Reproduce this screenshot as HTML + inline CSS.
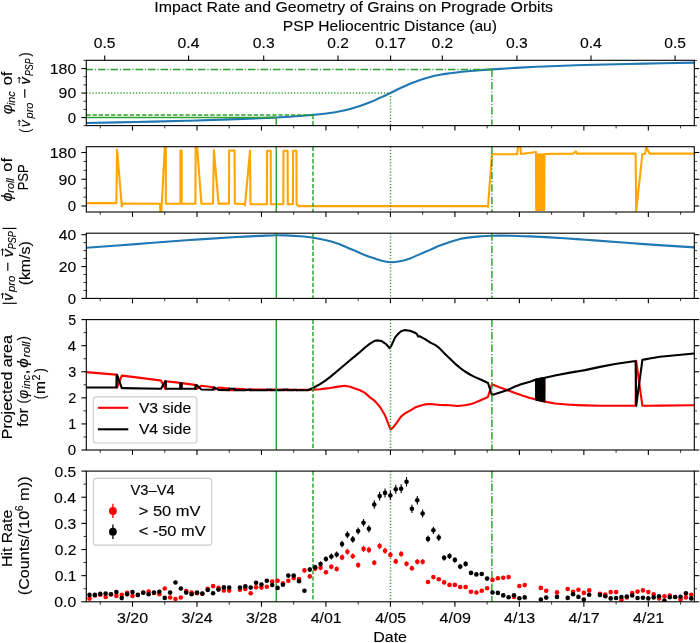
<!DOCTYPE html><html><head><meta charset="utf-8"><style>html,body{margin:0;padding:0;background:#fff;overflow:hidden;width:700px;height:643px;}svg{display:block;will-change:transform;}text{font-family:"Liberation Sans",sans-serif;fill:#000;stroke:#000;stroke-width:0.12px;}</style></head><body>
<svg width="700" height="643" viewBox="0 0 700 643">
<rect width="700" height="643" fill="#fff"/>
<text x="154.27" y="11.80" font-size="15.40" textLength="398.76" lengthAdjust="spacingAndGlyphs" >Impact Rate and Geometry of Grains on Prograde Orbits</text>
<text x="282.88" y="31.00" font-size="15.40" textLength="214.13" lengthAdjust="spacingAndGlyphs" >PSP Heliocentric Distance (au)</text>
<line x1="104.7" y1="60.3" x2="104.7" y2="55.4" stroke="#000" stroke-width="1.1"/>
<text x="93.89" y="47.50" font-size="15.10" textLength="21.67" lengthAdjust="spacingAndGlyphs" >0.5</text>
<line x1="188.6" y1="60.3" x2="188.6" y2="55.4" stroke="#000" stroke-width="1.1"/>
<text x="177.56" y="47.50" font-size="15.10" textLength="21.93" lengthAdjust="spacingAndGlyphs" >0.4</text>
<line x1="263.7" y1="60.3" x2="263.7" y2="55.4" stroke="#000" stroke-width="1.1"/>
<text x="252.83" y="47.50" font-size="15.10" textLength="21.81" lengthAdjust="spacingAndGlyphs" >0.3</text>
<line x1="338.0" y1="60.3" x2="338.0" y2="55.4" stroke="#000" stroke-width="1.1"/>
<text x="327.28" y="47.50" font-size="15.10" textLength="21.61" lengthAdjust="spacingAndGlyphs" >0.2</text>
<line x1="390.6" y1="60.3" x2="390.6" y2="55.4" stroke="#000" stroke-width="1.1"/>
<text x="375.25" y="47.50" font-size="15.10" textLength="30.89" lengthAdjust="spacingAndGlyphs" >0.17</text>
<line x1="442.3" y1="60.3" x2="442.3" y2="55.4" stroke="#000" stroke-width="1.1"/>
<text x="431.58" y="47.50" font-size="15.10" textLength="21.61" lengthAdjust="spacingAndGlyphs" >0.2</text>
<line x1="516.9" y1="60.3" x2="516.9" y2="55.4" stroke="#000" stroke-width="1.1"/>
<text x="506.03" y="47.50" font-size="15.10" textLength="21.81" lengthAdjust="spacingAndGlyphs" >0.3</text>
<line x1="591.0" y1="60.3" x2="591.0" y2="55.4" stroke="#000" stroke-width="1.1"/>
<text x="579.96" y="47.50" font-size="15.10" textLength="21.93" lengthAdjust="spacingAndGlyphs" >0.4</text>
<line x1="675.1" y1="60.3" x2="675.1" y2="55.4" stroke="#000" stroke-width="1.1"/>
<text x="664.29" y="47.50" font-size="15.10" textLength="21.67" lengthAdjust="spacingAndGlyphs" >0.5</text>
<line x1="81.39999999999999" y1="117.57" x2="86.3" y2="117.57" stroke="#000" stroke-width="1.1"/>
<line x1="694.3" y1="117.57" x2="699.1999999999999" y2="117.57" stroke="#000" stroke-width="1.1"/>
<line x1="81.39999999999999" y1="93.07" x2="86.3" y2="93.07" stroke="#000" stroke-width="1.1"/>
<line x1="694.3" y1="93.07" x2="699.1999999999999" y2="93.07" stroke="#000" stroke-width="1.1"/>
<line x1="81.39999999999999" y1="68.57" x2="86.3" y2="68.57" stroke="#000" stroke-width="1.1"/>
<line x1="694.3" y1="68.57" x2="699.1999999999999" y2="68.57" stroke="#000" stroke-width="1.1"/>
<line x1="83.5" y1="125.74" x2="86.3" y2="125.74" stroke="#000" stroke-width="0.8"/>
<line x1="694.3" y1="125.74" x2="697.0999999999999" y2="125.74" stroke="#000" stroke-width="0.8"/>
<line x1="83.5" y1="109.40" x2="86.3" y2="109.40" stroke="#000" stroke-width="0.8"/>
<line x1="694.3" y1="109.40" x2="697.0999999999999" y2="109.40" stroke="#000" stroke-width="0.8"/>
<line x1="83.5" y1="101.24" x2="86.3" y2="101.24" stroke="#000" stroke-width="0.8"/>
<line x1="694.3" y1="101.24" x2="697.0999999999999" y2="101.24" stroke="#000" stroke-width="0.8"/>
<line x1="83.5" y1="84.90" x2="86.3" y2="84.90" stroke="#000" stroke-width="0.8"/>
<line x1="694.3" y1="84.90" x2="697.0999999999999" y2="84.90" stroke="#000" stroke-width="0.8"/>
<line x1="83.5" y1="76.74" x2="86.3" y2="76.74" stroke="#000" stroke-width="0.8"/>
<line x1="694.3" y1="76.74" x2="697.0999999999999" y2="76.74" stroke="#000" stroke-width="0.8"/>
<line x1="83.5" y1="60.40" x2="86.3" y2="60.40" stroke="#000" stroke-width="0.8"/>
<line x1="694.3" y1="60.40" x2="697.0999999999999" y2="60.40" stroke="#000" stroke-width="0.8"/>
<text x="49.79" y="73.97" font-size="15.10" textLength="26.43" lengthAdjust="spacingAndGlyphs" >180</text>
<text x="58.63" y="98.47" font-size="15.10" textLength="17.59" lengthAdjust="spacingAndGlyphs" >90</text>
<text x="67.86" y="122.97" font-size="15.10" textLength="8.32" lengthAdjust="spacingAndGlyphs" >0</text>
<line x1="81.39999999999999" y1="206.00" x2="86.3" y2="206.00" stroke="#000" stroke-width="1.1"/>
<line x1="694.3" y1="206.00" x2="699.1999999999999" y2="206.00" stroke="#000" stroke-width="1.1"/>
<line x1="81.39999999999999" y1="179.25" x2="86.3" y2="179.25" stroke="#000" stroke-width="1.1"/>
<line x1="694.3" y1="179.25" x2="699.1999999999999" y2="179.25" stroke="#000" stroke-width="1.1"/>
<line x1="81.39999999999999" y1="152.50" x2="86.3" y2="152.50" stroke="#000" stroke-width="1.1"/>
<line x1="694.3" y1="152.50" x2="699.1999999999999" y2="152.50" stroke="#000" stroke-width="1.1"/>
<line x1="83.5" y1="197.08" x2="86.3" y2="197.08" stroke="#000" stroke-width="0.8"/>
<line x1="694.3" y1="197.08" x2="697.0999999999999" y2="197.08" stroke="#000" stroke-width="0.8"/>
<line x1="83.5" y1="188.17" x2="86.3" y2="188.17" stroke="#000" stroke-width="0.8"/>
<line x1="694.3" y1="188.17" x2="697.0999999999999" y2="188.17" stroke="#000" stroke-width="0.8"/>
<line x1="83.5" y1="170.33" x2="86.3" y2="170.33" stroke="#000" stroke-width="0.8"/>
<line x1="694.3" y1="170.33" x2="697.0999999999999" y2="170.33" stroke="#000" stroke-width="0.8"/>
<line x1="83.5" y1="161.42" x2="86.3" y2="161.42" stroke="#000" stroke-width="0.8"/>
<line x1="694.3" y1="161.42" x2="697.0999999999999" y2="161.42" stroke="#000" stroke-width="0.8"/>
<text x="49.79" y="157.90" font-size="15.10" textLength="26.43" lengthAdjust="spacingAndGlyphs" >180</text>
<text x="58.63" y="184.65" font-size="15.10" textLength="17.59" lengthAdjust="spacingAndGlyphs" >90</text>
<text x="67.86" y="211.40" font-size="15.10" textLength="8.32" lengthAdjust="spacingAndGlyphs" >0</text>
<line x1="81.39999999999999" y1="298.40" x2="86.3" y2="298.40" stroke="#000" stroke-width="1.1"/>
<line x1="694.3" y1="298.40" x2="699.1999999999999" y2="298.40" stroke="#000" stroke-width="1.1"/>
<line x1="81.39999999999999" y1="266.55" x2="86.3" y2="266.55" stroke="#000" stroke-width="1.1"/>
<line x1="694.3" y1="266.55" x2="699.1999999999999" y2="266.55" stroke="#000" stroke-width="1.1"/>
<line x1="81.39999999999999" y1="234.70" x2="86.3" y2="234.70" stroke="#000" stroke-width="1.1"/>
<line x1="694.3" y1="234.70" x2="699.1999999999999" y2="234.70" stroke="#000" stroke-width="1.1"/>
<line x1="83.5" y1="290.44" x2="86.3" y2="290.44" stroke="#000" stroke-width="0.8"/>
<line x1="694.3" y1="290.44" x2="697.0999999999999" y2="290.44" stroke="#000" stroke-width="0.8"/>
<line x1="83.5" y1="282.47" x2="86.3" y2="282.47" stroke="#000" stroke-width="0.8"/>
<line x1="694.3" y1="282.47" x2="697.0999999999999" y2="282.47" stroke="#000" stroke-width="0.8"/>
<line x1="83.5" y1="274.51" x2="86.3" y2="274.51" stroke="#000" stroke-width="0.8"/>
<line x1="694.3" y1="274.51" x2="697.0999999999999" y2="274.51" stroke="#000" stroke-width="0.8"/>
<line x1="83.5" y1="258.59" x2="86.3" y2="258.59" stroke="#000" stroke-width="0.8"/>
<line x1="694.3" y1="258.59" x2="697.0999999999999" y2="258.59" stroke="#000" stroke-width="0.8"/>
<line x1="83.5" y1="250.62" x2="86.3" y2="250.62" stroke="#000" stroke-width="0.8"/>
<line x1="694.3" y1="250.62" x2="697.0999999999999" y2="250.62" stroke="#000" stroke-width="0.8"/>
<line x1="83.5" y1="242.66" x2="86.3" y2="242.66" stroke="#000" stroke-width="0.8"/>
<line x1="694.3" y1="242.66" x2="697.0999999999999" y2="242.66" stroke="#000" stroke-width="0.8"/>
<text x="58.81" y="240.10" font-size="15.10" textLength="17.40" lengthAdjust="spacingAndGlyphs" >40</text>
<text x="58.72" y="271.95" font-size="15.10" textLength="17.49" lengthAdjust="spacingAndGlyphs" >20</text>
<text x="67.86" y="303.80" font-size="15.10" textLength="8.32" lengthAdjust="spacingAndGlyphs" >0</text>
<line x1="81.39999999999999" y1="450.00" x2="86.3" y2="450.00" stroke="#000" stroke-width="1.1"/>
<line x1="694.3" y1="450.00" x2="699.1999999999999" y2="450.00" stroke="#000" stroke-width="1.1"/>
<line x1="81.39999999999999" y1="423.92" x2="86.3" y2="423.92" stroke="#000" stroke-width="1.1"/>
<line x1="694.3" y1="423.92" x2="699.1999999999999" y2="423.92" stroke="#000" stroke-width="1.1"/>
<line x1="81.39999999999999" y1="397.84" x2="86.3" y2="397.84" stroke="#000" stroke-width="1.1"/>
<line x1="694.3" y1="397.84" x2="699.1999999999999" y2="397.84" stroke="#000" stroke-width="1.1"/>
<line x1="81.39999999999999" y1="371.76" x2="86.3" y2="371.76" stroke="#000" stroke-width="1.1"/>
<line x1="694.3" y1="371.76" x2="699.1999999999999" y2="371.76" stroke="#000" stroke-width="1.1"/>
<line x1="81.39999999999999" y1="345.68" x2="86.3" y2="345.68" stroke="#000" stroke-width="1.1"/>
<line x1="694.3" y1="345.68" x2="699.1999999999999" y2="345.68" stroke="#000" stroke-width="1.1"/>
<line x1="81.39999999999999" y1="319.60" x2="86.3" y2="319.60" stroke="#000" stroke-width="1.1"/>
<line x1="694.3" y1="319.60" x2="699.1999999999999" y2="319.60" stroke="#000" stroke-width="1.1"/>
<line x1="83.5" y1="436.96" x2="86.3" y2="436.96" stroke="#000" stroke-width="0.8"/>
<line x1="694.3" y1="436.96" x2="697.0999999999999" y2="436.96" stroke="#000" stroke-width="0.8"/>
<line x1="83.5" y1="410.88" x2="86.3" y2="410.88" stroke="#000" stroke-width="0.8"/>
<line x1="694.3" y1="410.88" x2="697.0999999999999" y2="410.88" stroke="#000" stroke-width="0.8"/>
<line x1="83.5" y1="384.80" x2="86.3" y2="384.80" stroke="#000" stroke-width="0.8"/>
<line x1="694.3" y1="384.80" x2="697.0999999999999" y2="384.80" stroke="#000" stroke-width="0.8"/>
<line x1="83.5" y1="358.72" x2="86.3" y2="358.72" stroke="#000" stroke-width="0.8"/>
<line x1="694.3" y1="358.72" x2="697.0999999999999" y2="358.72" stroke="#000" stroke-width="0.8"/>
<line x1="83.5" y1="332.64" x2="86.3" y2="332.64" stroke="#000" stroke-width="0.8"/>
<line x1="694.3" y1="332.64" x2="697.0999999999999" y2="332.64" stroke="#000" stroke-width="0.8"/>
<text x="67.86" y="455.40" font-size="15.10" textLength="8.32" lengthAdjust="spacingAndGlyphs" >0</text>
<text x="68.35" y="429.32" font-size="15.10" textLength="7.95" lengthAdjust="spacingAndGlyphs" >1</text>
<text x="68.30" y="403.24" font-size="15.10" textLength="8.02" lengthAdjust="spacingAndGlyphs" >2</text>
<text x="68.24" y="377.16" font-size="15.10" textLength="7.99" lengthAdjust="spacingAndGlyphs" >3</text>
<text x="67.71" y="351.08" font-size="15.10" textLength="8.33" lengthAdjust="spacingAndGlyphs" >4</text>
<text x="68.34" y="325.00" font-size="15.10" textLength="7.86" lengthAdjust="spacingAndGlyphs" >5</text>
<line x1="81.39999999999999" y1="601.80" x2="86.3" y2="601.80" stroke="#000" stroke-width="1.1"/>
<line x1="694.3" y1="601.80" x2="699.1999999999999" y2="601.80" stroke="#000" stroke-width="1.1"/>
<line x1="81.39999999999999" y1="575.66" x2="86.3" y2="575.66" stroke="#000" stroke-width="1.1"/>
<line x1="694.3" y1="575.66" x2="699.1999999999999" y2="575.66" stroke="#000" stroke-width="1.1"/>
<line x1="81.39999999999999" y1="549.52" x2="86.3" y2="549.52" stroke="#000" stroke-width="1.1"/>
<line x1="694.3" y1="549.52" x2="699.1999999999999" y2="549.52" stroke="#000" stroke-width="1.1"/>
<line x1="81.39999999999999" y1="523.38" x2="86.3" y2="523.38" stroke="#000" stroke-width="1.1"/>
<line x1="694.3" y1="523.38" x2="699.1999999999999" y2="523.38" stroke="#000" stroke-width="1.1"/>
<line x1="81.39999999999999" y1="497.24" x2="86.3" y2="497.24" stroke="#000" stroke-width="1.1"/>
<line x1="694.3" y1="497.24" x2="699.1999999999999" y2="497.24" stroke="#000" stroke-width="1.1"/>
<line x1="81.39999999999999" y1="471.10" x2="86.3" y2="471.10" stroke="#000" stroke-width="1.1"/>
<line x1="694.3" y1="471.10" x2="699.1999999999999" y2="471.10" stroke="#000" stroke-width="1.1"/>
<line x1="83.5" y1="588.73" x2="86.3" y2="588.73" stroke="#000" stroke-width="0.8"/>
<line x1="694.3" y1="588.73" x2="697.0999999999999" y2="588.73" stroke="#000" stroke-width="0.8"/>
<line x1="83.5" y1="562.59" x2="86.3" y2="562.59" stroke="#000" stroke-width="0.8"/>
<line x1="694.3" y1="562.59" x2="697.0999999999999" y2="562.59" stroke="#000" stroke-width="0.8"/>
<line x1="83.5" y1="536.45" x2="86.3" y2="536.45" stroke="#000" stroke-width="0.8"/>
<line x1="694.3" y1="536.45" x2="697.0999999999999" y2="536.45" stroke="#000" stroke-width="0.8"/>
<line x1="83.5" y1="510.31" x2="86.3" y2="510.31" stroke="#000" stroke-width="0.8"/>
<line x1="694.3" y1="510.31" x2="697.0999999999999" y2="510.31" stroke="#000" stroke-width="0.8"/>
<line x1="83.5" y1="484.17" x2="86.3" y2="484.17" stroke="#000" stroke-width="0.8"/>
<line x1="694.3" y1="484.17" x2="697.0999999999999" y2="484.17" stroke="#000" stroke-width="0.8"/>
<text x="54.28" y="607.20" font-size="15.10" textLength="21.94" lengthAdjust="spacingAndGlyphs" >0.0</text>
<text x="54.65" y="581.06" font-size="15.10" textLength="21.71" lengthAdjust="spacingAndGlyphs" >0.1</text>
<text x="54.77" y="554.92" font-size="15.10" textLength="21.61" lengthAdjust="spacingAndGlyphs" >0.2</text>
<text x="54.48" y="528.78" font-size="15.10" textLength="21.81" lengthAdjust="spacingAndGlyphs" >0.3</text>
<text x="54.13" y="502.64" font-size="15.10" textLength="21.93" lengthAdjust="spacingAndGlyphs" >0.4</text>
<text x="54.59" y="476.50" font-size="15.10" textLength="21.67" lengthAdjust="spacingAndGlyphs" >0.5</text>
<line x1="132.50" y1="125.6" x2="132.50" y2="130.5" stroke="#000" stroke-width="1.1"/>
<line x1="196.98" y1="125.6" x2="196.98" y2="130.5" stroke="#000" stroke-width="1.1"/>
<line x1="261.46" y1="125.6" x2="261.46" y2="130.5" stroke="#000" stroke-width="1.1"/>
<line x1="325.94" y1="125.6" x2="325.94" y2="130.5" stroke="#000" stroke-width="1.1"/>
<line x1="390.42" y1="125.6" x2="390.42" y2="130.5" stroke="#000" stroke-width="1.1"/>
<line x1="454.90" y1="125.6" x2="454.90" y2="130.5" stroke="#000" stroke-width="1.1"/>
<line x1="519.38" y1="125.6" x2="519.38" y2="130.5" stroke="#000" stroke-width="1.1"/>
<line x1="583.86" y1="125.6" x2="583.86" y2="130.5" stroke="#000" stroke-width="1.1"/>
<line x1="648.34" y1="125.6" x2="648.34" y2="130.5" stroke="#000" stroke-width="1.1"/>
<line x1="100.26" y1="125.6" x2="100.26" y2="128.4" stroke="#000" stroke-width="0.8"/>
<line x1="164.74" y1="125.6" x2="164.74" y2="128.4" stroke="#000" stroke-width="0.8"/>
<line x1="229.22" y1="125.6" x2="229.22" y2="128.4" stroke="#000" stroke-width="0.8"/>
<line x1="293.70" y1="125.6" x2="293.70" y2="128.4" stroke="#000" stroke-width="0.8"/>
<line x1="358.18" y1="125.6" x2="358.18" y2="128.4" stroke="#000" stroke-width="0.8"/>
<line x1="422.66" y1="125.6" x2="422.66" y2="128.4" stroke="#000" stroke-width="0.8"/>
<line x1="487.14" y1="125.6" x2="487.14" y2="128.4" stroke="#000" stroke-width="0.8"/>
<line x1="551.62" y1="125.6" x2="551.62" y2="128.4" stroke="#000" stroke-width="0.8"/>
<line x1="616.10" y1="125.6" x2="616.10" y2="128.4" stroke="#000" stroke-width="0.8"/>
<line x1="680.58" y1="125.6" x2="680.58" y2="128.4" stroke="#000" stroke-width="0.8"/>
<line x1="132.50" y1="212.0" x2="132.50" y2="216.9" stroke="#000" stroke-width="1.1"/>
<line x1="196.98" y1="212.0" x2="196.98" y2="216.9" stroke="#000" stroke-width="1.1"/>
<line x1="261.46" y1="212.0" x2="261.46" y2="216.9" stroke="#000" stroke-width="1.1"/>
<line x1="325.94" y1="212.0" x2="325.94" y2="216.9" stroke="#000" stroke-width="1.1"/>
<line x1="390.42" y1="212.0" x2="390.42" y2="216.9" stroke="#000" stroke-width="1.1"/>
<line x1="454.90" y1="212.0" x2="454.90" y2="216.9" stroke="#000" stroke-width="1.1"/>
<line x1="519.38" y1="212.0" x2="519.38" y2="216.9" stroke="#000" stroke-width="1.1"/>
<line x1="583.86" y1="212.0" x2="583.86" y2="216.9" stroke="#000" stroke-width="1.1"/>
<line x1="648.34" y1="212.0" x2="648.34" y2="216.9" stroke="#000" stroke-width="1.1"/>
<line x1="100.26" y1="212.0" x2="100.26" y2="214.8" stroke="#000" stroke-width="0.8"/>
<line x1="164.74" y1="212.0" x2="164.74" y2="214.8" stroke="#000" stroke-width="0.8"/>
<line x1="229.22" y1="212.0" x2="229.22" y2="214.8" stroke="#000" stroke-width="0.8"/>
<line x1="293.70" y1="212.0" x2="293.70" y2="214.8" stroke="#000" stroke-width="0.8"/>
<line x1="358.18" y1="212.0" x2="358.18" y2="214.8" stroke="#000" stroke-width="0.8"/>
<line x1="422.66" y1="212.0" x2="422.66" y2="214.8" stroke="#000" stroke-width="0.8"/>
<line x1="487.14" y1="212.0" x2="487.14" y2="214.8" stroke="#000" stroke-width="0.8"/>
<line x1="551.62" y1="212.0" x2="551.62" y2="214.8" stroke="#000" stroke-width="0.8"/>
<line x1="616.10" y1="212.0" x2="616.10" y2="214.8" stroke="#000" stroke-width="0.8"/>
<line x1="680.58" y1="212.0" x2="680.58" y2="214.8" stroke="#000" stroke-width="0.8"/>
<line x1="132.50" y1="298.4" x2="132.50" y2="303.29999999999995" stroke="#000" stroke-width="1.1"/>
<line x1="196.98" y1="298.4" x2="196.98" y2="303.29999999999995" stroke="#000" stroke-width="1.1"/>
<line x1="261.46" y1="298.4" x2="261.46" y2="303.29999999999995" stroke="#000" stroke-width="1.1"/>
<line x1="325.94" y1="298.4" x2="325.94" y2="303.29999999999995" stroke="#000" stroke-width="1.1"/>
<line x1="390.42" y1="298.4" x2="390.42" y2="303.29999999999995" stroke="#000" stroke-width="1.1"/>
<line x1="454.90" y1="298.4" x2="454.90" y2="303.29999999999995" stroke="#000" stroke-width="1.1"/>
<line x1="519.38" y1="298.4" x2="519.38" y2="303.29999999999995" stroke="#000" stroke-width="1.1"/>
<line x1="583.86" y1="298.4" x2="583.86" y2="303.29999999999995" stroke="#000" stroke-width="1.1"/>
<line x1="648.34" y1="298.4" x2="648.34" y2="303.29999999999995" stroke="#000" stroke-width="1.1"/>
<line x1="100.26" y1="298.4" x2="100.26" y2="301.2" stroke="#000" stroke-width="0.8"/>
<line x1="164.74" y1="298.4" x2="164.74" y2="301.2" stroke="#000" stroke-width="0.8"/>
<line x1="229.22" y1="298.4" x2="229.22" y2="301.2" stroke="#000" stroke-width="0.8"/>
<line x1="293.70" y1="298.4" x2="293.70" y2="301.2" stroke="#000" stroke-width="0.8"/>
<line x1="358.18" y1="298.4" x2="358.18" y2="301.2" stroke="#000" stroke-width="0.8"/>
<line x1="422.66" y1="298.4" x2="422.66" y2="301.2" stroke="#000" stroke-width="0.8"/>
<line x1="487.14" y1="298.4" x2="487.14" y2="301.2" stroke="#000" stroke-width="0.8"/>
<line x1="551.62" y1="298.4" x2="551.62" y2="301.2" stroke="#000" stroke-width="0.8"/>
<line x1="616.10" y1="298.4" x2="616.10" y2="301.2" stroke="#000" stroke-width="0.8"/>
<line x1="680.58" y1="298.4" x2="680.58" y2="301.2" stroke="#000" stroke-width="0.8"/>
<line x1="132.50" y1="450.0" x2="132.50" y2="454.9" stroke="#000" stroke-width="1.1"/>
<line x1="196.98" y1="450.0" x2="196.98" y2="454.9" stroke="#000" stroke-width="1.1"/>
<line x1="261.46" y1="450.0" x2="261.46" y2="454.9" stroke="#000" stroke-width="1.1"/>
<line x1="325.94" y1="450.0" x2="325.94" y2="454.9" stroke="#000" stroke-width="1.1"/>
<line x1="390.42" y1="450.0" x2="390.42" y2="454.9" stroke="#000" stroke-width="1.1"/>
<line x1="454.90" y1="450.0" x2="454.90" y2="454.9" stroke="#000" stroke-width="1.1"/>
<line x1="519.38" y1="450.0" x2="519.38" y2="454.9" stroke="#000" stroke-width="1.1"/>
<line x1="583.86" y1="450.0" x2="583.86" y2="454.9" stroke="#000" stroke-width="1.1"/>
<line x1="648.34" y1="450.0" x2="648.34" y2="454.9" stroke="#000" stroke-width="1.1"/>
<line x1="100.26" y1="450.0" x2="100.26" y2="452.8" stroke="#000" stroke-width="0.8"/>
<line x1="164.74" y1="450.0" x2="164.74" y2="452.8" stroke="#000" stroke-width="0.8"/>
<line x1="229.22" y1="450.0" x2="229.22" y2="452.8" stroke="#000" stroke-width="0.8"/>
<line x1="293.70" y1="450.0" x2="293.70" y2="452.8" stroke="#000" stroke-width="0.8"/>
<line x1="358.18" y1="450.0" x2="358.18" y2="452.8" stroke="#000" stroke-width="0.8"/>
<line x1="422.66" y1="450.0" x2="422.66" y2="452.8" stroke="#000" stroke-width="0.8"/>
<line x1="487.14" y1="450.0" x2="487.14" y2="452.8" stroke="#000" stroke-width="0.8"/>
<line x1="551.62" y1="450.0" x2="551.62" y2="452.8" stroke="#000" stroke-width="0.8"/>
<line x1="616.10" y1="450.0" x2="616.10" y2="452.8" stroke="#000" stroke-width="0.8"/>
<line x1="680.58" y1="450.0" x2="680.58" y2="452.8" stroke="#000" stroke-width="0.8"/>
<line x1="132.50" y1="601.8" x2="132.50" y2="606.6999999999999" stroke="#000" stroke-width="1.1"/>
<line x1="196.98" y1="601.8" x2="196.98" y2="606.6999999999999" stroke="#000" stroke-width="1.1"/>
<line x1="261.46" y1="601.8" x2="261.46" y2="606.6999999999999" stroke="#000" stroke-width="1.1"/>
<line x1="325.94" y1="601.8" x2="325.94" y2="606.6999999999999" stroke="#000" stroke-width="1.1"/>
<line x1="390.42" y1="601.8" x2="390.42" y2="606.6999999999999" stroke="#000" stroke-width="1.1"/>
<line x1="454.90" y1="601.8" x2="454.90" y2="606.6999999999999" stroke="#000" stroke-width="1.1"/>
<line x1="519.38" y1="601.8" x2="519.38" y2="606.6999999999999" stroke="#000" stroke-width="1.1"/>
<line x1="583.86" y1="601.8" x2="583.86" y2="606.6999999999999" stroke="#000" stroke-width="1.1"/>
<line x1="648.34" y1="601.8" x2="648.34" y2="606.6999999999999" stroke="#000" stroke-width="1.1"/>
<line x1="100.26" y1="601.8" x2="100.26" y2="604.5999999999999" stroke="#000" stroke-width="0.8"/>
<line x1="164.74" y1="601.8" x2="164.74" y2="604.5999999999999" stroke="#000" stroke-width="0.8"/>
<line x1="229.22" y1="601.8" x2="229.22" y2="604.5999999999999" stroke="#000" stroke-width="0.8"/>
<line x1="293.70" y1="601.8" x2="293.70" y2="604.5999999999999" stroke="#000" stroke-width="0.8"/>
<line x1="358.18" y1="601.8" x2="358.18" y2="604.5999999999999" stroke="#000" stroke-width="0.8"/>
<line x1="422.66" y1="601.8" x2="422.66" y2="604.5999999999999" stroke="#000" stroke-width="0.8"/>
<line x1="487.14" y1="601.8" x2="487.14" y2="604.5999999999999" stroke="#000" stroke-width="0.8"/>
<line x1="551.62" y1="601.8" x2="551.62" y2="604.5999999999999" stroke="#000" stroke-width="0.8"/>
<line x1="616.10" y1="601.8" x2="616.10" y2="604.5999999999999" stroke="#000" stroke-width="0.8"/>
<line x1="680.58" y1="601.8" x2="680.58" y2="604.5999999999999" stroke="#000" stroke-width="0.8"/>
<text x="117.06" y="622.50" font-size="15.10" textLength="31.10" lengthAdjust="spacingAndGlyphs" >3/20</text>
<text x="181.47" y="622.50" font-size="15.10" textLength="31.08" lengthAdjust="spacingAndGlyphs" >3/24</text>
<text x="246.03" y="622.50" font-size="15.10" textLength="31.14" lengthAdjust="spacingAndGlyphs" >3/28</text>
<text x="310.73" y="622.50" font-size="15.10" textLength="31.03" lengthAdjust="spacingAndGlyphs" >4/01</text>
<text x="375.18" y="622.50" font-size="15.10" textLength="30.99" lengthAdjust="spacingAndGlyphs" >4/05</text>
<text x="439.53" y="622.50" font-size="15.10" textLength="31.33" lengthAdjust="spacingAndGlyphs" >4/09</text>
<text x="504.08" y="622.50" font-size="15.10" textLength="31.13" lengthAdjust="spacingAndGlyphs" >4/13</text>
<text x="568.60" y="622.50" font-size="15.10" textLength="31.15" lengthAdjust="spacingAndGlyphs" >4/17</text>
<text x="633.13" y="622.50" font-size="15.10" textLength="31.03" lengthAdjust="spacingAndGlyphs" >4/21</text>
<text x="373.19" y="641.60" font-size="15.10" textLength="33.82" lengthAdjust="spacingAndGlyphs" >Date</text>
<defs><clipPath id="c1"><rect x="86.3" y="60.3" width="608.0" height="65.3"/></clipPath><clipPath id="c2"><rect x="86.3" y="146.7" width="608.0" height="65.30000000000001"/></clipPath><clipPath id="c3"><rect x="86.3" y="233.2" width="608.0" height="65.19999999999999"/></clipPath><clipPath id="c4"><rect x="86.3" y="319.6" width="608.0" height="130.39999999999998"/></clipPath><clipPath id="c5"><rect x="86.3" y="471.1" width="608.0" height="130.69999999999993"/></clipPath></defs>
<g clip-path="url(#c1)">
<path d="M86.00,123.00 C94.33,122.83 119.33,122.37 136.00,122.00 C152.67,121.63 170.33,121.23 186.00,120.80 C201.67,120.37 217.67,119.82 230.00,119.40 C242.33,118.98 252.33,118.62 260.00,118.30 C267.67,117.98 271.00,117.77 276.00,117.50 C281.00,117.23 286.00,116.95 290.00,116.70 C294.00,116.45 296.17,116.30 300.00,116.00 C303.83,115.70 309.67,115.20 313.00,114.90 C316.33,114.60 317.17,114.52 320.00,114.20 C322.83,113.88 326.67,113.48 330.00,113.00 C333.33,112.52 336.67,111.97 340.00,111.30 C343.33,110.63 346.67,109.88 350.00,109.00 C353.33,108.12 356.67,107.12 360.00,106.00 C363.33,104.88 366.67,103.67 370.00,102.30 C373.33,100.93 376.60,99.35 380.00,97.80 C383.40,96.25 387.07,94.58 390.40,93.00 C393.73,91.42 396.73,89.83 400.00,88.30 C403.27,86.77 406.67,85.20 410.00,83.80 C413.33,82.40 416.67,81.05 420.00,79.90 C423.33,78.75 426.67,77.77 430.00,76.90 C433.33,76.03 436.67,75.32 440.00,74.70 C443.33,74.08 446.67,73.65 450.00,73.20 C453.33,72.75 456.67,72.37 460.00,72.00 C463.33,71.63 466.67,71.30 470.00,71.00 C473.33,70.70 476.33,70.47 480.00,70.20 C483.67,69.93 488.67,69.62 492.00,69.40 C495.33,69.18 497.00,69.10 500.00,68.90 C503.00,68.70 506.67,68.42 510.00,68.20 C513.33,67.98 514.33,67.88 520.00,67.60 C525.67,67.32 535.67,66.85 544.00,66.50 C552.33,66.15 561.67,65.80 570.00,65.50 C578.33,65.20 581.67,65.02 594.00,64.70 C606.33,64.38 627.25,63.95 644.00,63.60 C660.75,63.25 686.08,62.77 694.50,62.60" fill="none" stroke="#1f77b4" stroke-width="2.1" stroke-linejoin="round" />
<line x1="86.3" y1="117.50" x2="276.3" y2="117.50" stroke="#2ca02c" stroke-width="1.45" />
<line x1="276.3" y1="117.50" x2="276.3" y2="125.6" stroke="#2ca02c" stroke-width="1.45" />
<line x1="86.3" y1="114.90" x2="313.0" y2="114.90" stroke="#2ca02c" stroke-width="1.45" stroke-dasharray="4.3 1.9"/>
<line x1="313.0" y1="114.90" x2="313.0" y2="125.6" stroke="#2ca02c" stroke-width="1.45" stroke-dasharray="4.3 1.9"/>
<line x1="86.3" y1="93.00" x2="390.5" y2="93.00" stroke="#2ca02c" stroke-width="1.45" stroke-dasharray="1.2 1.9"/>
<line x1="390.5" y1="93.00" x2="390.5" y2="125.6" stroke="#2ca02c" stroke-width="1.45" stroke-dasharray="1.2 1.9"/>
<line x1="86.3" y1="69.50" x2="491.9" y2="69.50" stroke="#2ca02c" stroke-width="1.45" stroke-dasharray="7.5 1.9 1.2 1.9" stroke-dashoffset="0.8"/>
<line x1="491.9" y1="69.50" x2="491.9" y2="125.6" stroke="#2ca02c" stroke-width="1.45" stroke-dasharray="7.5 1.9 1.2 1.9"/>
</g>
<g clip-path="url(#c2)">
<polyline points="86.00,203.10 116.30,203.10 117.10,149.70 121.80,206.30 122.60,203.60 160.10,203.80 160.50,218.00 161.00,218.00 165.20,140.00 165.80,140.00 165.80,203.70 180.40,203.70 180.40,150.50 181.60,150.50 181.60,203.70 195.40,203.70 195.70,140.00 196.60,140.00 201.40,203.70 213.00,203.60 213.90,150.30 218.60,203.60 229.00,203.60 229.20,150.50 234.60,150.50 234.80,203.60 244.30,204.00 245.00,205.30 250.00,150.70 250.50,204.30 266.90,204.30 267.10,150.70 270.70,150.70 270.90,204.30 283.30,204.30 283.50,150.70 287.60,150.70 287.80,204.30 292.90,204.30 293.10,150.70 296.40,150.70 296.60,204.30 298.60,206.10 487.50,206.10 488.00,207.00 491.90,154.30 517.10,154.30 518.00,146.50 520.30,146.50 521.00,154.00 536.00,152.00 536.20,210.00 536.45,154.60 536.70,210.00 536.95,154.60 537.20,210.00 537.45,154.60 537.70,210.00 537.95,154.60 538.20,210.00 538.45,154.60 538.70,210.00 538.95,154.60 539.20,210.00 539.45,154.60 539.70,210.00 539.95,154.60 540.20,210.00 540.45,154.60 540.70,210.00 540.95,154.60 541.20,210.00 541.45,154.60 541.70,210.00 541.95,154.60 542.20,210.00 542.45,154.60 542.70,210.00 542.95,154.60 543.20,210.00 543.45,154.60 543.70,210.00 543.95,154.60 544.20,210.00 544.45,154.60 544.60,154.00 573.00,153.60 576.00,151.40 577.00,153.60 635.60,153.60 636.20,211.00 642.40,154.00 645.00,154.00 646.40,147.50 649.60,153.60 694.00,153.60" fill="none" stroke="#ffa500" stroke-width="2.1" stroke-linejoin="round" stroke-linecap="butt" />
</g>
<g clip-path="url(#c3)">
<path d="M86.00,247.70 C94.33,247.10 119.33,245.33 136.00,244.10 C152.67,242.87 169.33,241.48 186.00,240.30 C202.67,239.12 223.67,237.73 236.00,237.00 C248.33,236.27 253.33,236.20 260.00,235.90 C266.67,235.60 271.67,235.28 276.00,235.20 C280.33,235.12 282.00,235.22 286.00,235.40 C290.00,235.58 295.50,235.92 300.00,236.30 C304.50,236.68 308.67,237.03 313.00,237.70 C317.33,238.37 322.17,239.40 326.00,240.30 C329.83,241.20 332.67,241.98 336.00,243.10 C339.33,244.22 342.67,245.63 346.00,247.00 C349.33,248.37 352.67,249.87 356.00,251.30 C359.33,252.73 362.67,254.33 366.00,255.60 C369.33,256.87 373.17,258.00 376.00,258.90 C378.83,259.80 380.60,260.43 383.00,261.00 C385.40,261.57 387.57,262.25 390.40,262.30 C393.23,262.35 396.73,261.95 400.00,261.30 C403.27,260.65 406.67,259.60 410.00,258.40 C413.33,257.20 416.67,255.52 420.00,254.10 C423.33,252.68 426.67,251.32 430.00,249.90 C433.33,248.48 436.67,246.92 440.00,245.60 C443.33,244.28 446.67,243.08 450.00,242.00 C453.33,240.92 456.67,239.87 460.00,239.10 C463.33,238.33 466.67,237.85 470.00,237.40 C473.33,236.95 476.33,236.68 480.00,236.40 C483.67,236.12 487.00,235.82 492.00,235.70 C497.00,235.58 503.67,235.58 510.00,235.70 C516.33,235.82 523.33,236.12 530.00,236.40 C536.67,236.68 541.67,236.90 550.00,237.40 C558.33,237.90 572.67,238.90 580.00,239.40 C587.33,239.90 583.33,239.62 594.00,240.40 C604.67,241.18 627.25,242.93 644.00,244.10 C660.75,245.27 686.08,246.85 694.50,247.40" fill="none" stroke="#1f77b4" stroke-width="2.1" stroke-linejoin="round" />
</g>
<g clip-path="url(#c4)">
<polyline points="86.00,372.10 116.00,374.60 116.30,374.65 117.10,387.61 121.80,375.54 122.00,375.56 122.60,375.64 160.00,380.40 160.10,380.41 160.50,380.47 161.00,380.55 165.20,388.80 165.50,388.80 165.80,388.80 165.80,381.23 176.00,382.40 180.40,382.98 180.40,388.80 181.60,388.80 181.60,383.14 195.00,384.90 195.40,384.95 195.70,388.88 196.60,388.99 201.40,385.68 213.00,387.20 213.90,389.77 218.60,387.66 229.00,388.52 229.20,390.18 230.00,390.20 234.60,390.22 234.80,388.79 244.30,389.17 245.00,389.20 250.00,390.27 250.50,389.41 260.00,389.60 266.90,389.62 267.10,390.30 270.70,390.30 270.90,389.63 283.30,389.66 283.50,390.30 287.60,390.30 287.80,389.67 292.90,389.68 293.10,390.30 296.40,390.30 296.60,389.69 298.60,389.70 300.00,389.70 308.00,389.78 310.00,389.80 313.00,389.65 320.00,389.30 325.00,388.65 330.00,388.00 340.00,386.40 345.00,385.80 350.00,386.70 355.00,388.40 360.00,390.30 365.00,392.90 370.00,397.40 375.00,401.20 378.00,404.68 380.00,407.00 382.00,410.32 385.00,415.30 386.00,417.87 388.50,424.30 389.80,427.68 390.50,429.50 392.00,428.36 393.00,427.60 395.00,425.00 397.00,422.40 398.00,420.95 401.00,416.60 405.00,413.40 410.00,410.60 415.00,407.60 417.00,406.84 418.00,406.46 420.00,405.70 425.00,404.40 430.00,404.00 435.00,404.50 438.00,404.80 440.00,405.00 445.00,405.15 450.00,405.30 455.00,405.74 458.00,406.00 460.00,405.80 465.00,405.30 470.00,404.18 473.00,403.50 475.00,402.64 480.00,400.50 487.00,397.50 487.50,397.10 488.00,396.70 491.90,384.27 492.00,384.30 500.00,387.50 507.00,389.90 515.00,392.90 517.10,393.65 518.00,393.97 520.30,394.79 521.00,395.04 522.00,395.40 530.00,398.00 536.00,399.60 536.20,379.56 536.45,399.70 536.70,379.46 536.95,399.81 537.20,379.36 537.45,399.92 537.70,379.26 537.95,400.03 538.20,379.16 538.45,400.14 538.70,379.06 538.95,400.26 539.20,378.96 539.45,400.37 539.70,378.86 539.95,400.48 540.20,378.76 540.45,400.59 540.70,378.66 540.95,400.70 541.20,378.56 541.45,400.81 541.70,378.46 541.95,400.92 542.20,378.36 542.45,401.03 542.70,378.26 542.95,401.14 543.20,378.16 543.45,401.26 543.70,378.06 543.95,401.37 544.20,377.96 544.45,401.48 544.60,401.51 545.00,401.60 555.00,403.50 570.00,404.80 573.00,404.92 576.00,405.04 577.00,405.08 585.00,405.40 600.00,405.70 615.00,405.70 635.50,405.80 635.60,405.80 636.20,360.88 642.40,405.80 645.00,405.77 646.40,405.76 649.60,405.73 660.00,405.63 694.00,405.30" fill="none" stroke="#ff0000" stroke-width="2.1" stroke-linejoin="round" stroke-linecap="butt" />
<polyline points="86.00,387.50 116.00,387.50 116.30,387.53 117.10,374.78 121.80,388.08 122.00,388.10 122.60,388.11 160.00,388.80 160.10,388.80 160.50,388.80 161.00,388.80 165.20,381.16 165.50,381.20 165.80,381.23 165.80,388.80 176.00,388.80 180.40,388.80 180.40,382.98 181.60,383.14 181.60,388.80 195.00,388.80 195.40,388.85 195.70,384.98 196.60,385.09 201.40,389.44 213.00,389.75 213.90,387.27 218.60,389.90 229.00,390.17 229.20,388.53 230.00,388.60 234.60,388.78 234.80,390.22 244.30,390.25 245.00,390.25 250.00,389.40 250.50,390.27 260.00,390.30 266.90,390.30 267.10,389.62 270.70,389.63 270.90,390.30 283.30,390.30 283.50,389.66 287.60,389.67 287.80,390.30 292.90,390.30 293.10,389.68 296.40,389.69 296.60,390.30 298.60,390.30 300.00,390.30 308.00,390.30 310.00,389.30 313.00,388.00 320.00,384.10 325.00,380.90 330.00,377.10 340.00,368.70 345.00,364.50 350.00,360.30 355.00,356.15 360.00,352.00 365.00,347.50 370.00,343.60 375.00,340.70 378.00,340.40 380.00,340.85 382.00,341.30 385.00,343.32 386.00,344.00 388.50,346.83 389.80,348.30 390.50,347.03 392.00,344.30 393.00,342.07 395.00,337.60 397.00,335.20 398.00,334.00 401.00,331.20 405.00,330.10 410.00,330.80 415.00,332.70 417.00,334.10 418.00,336.40 420.00,336.30 425.00,339.10 430.00,342.40 435.00,344.90 438.00,346.90 440.00,348.80 445.00,353.90 450.00,358.70 455.00,363.60 458.00,366.12 460.00,367.80 465.00,371.50 470.00,374.50 473.00,376.06 475.00,377.10 480.00,379.30 487.00,382.54 487.50,382.77 488.00,383.00 491.90,395.04 492.00,395.00 500.00,392.40 507.00,390.30 515.00,386.50 517.10,385.72 518.00,385.39 520.30,384.53 521.00,384.27 522.00,383.90 530.00,381.70 536.00,379.60 536.20,399.64 536.45,379.51 536.70,399.76 536.95,379.41 537.20,399.87 537.45,379.31 537.70,399.98 537.95,379.21 538.20,400.09 538.45,379.11 538.70,400.20 538.95,379.01 539.20,400.31 539.45,378.91 539.70,400.42 539.95,378.81 540.20,400.53 540.45,378.71 540.70,400.64 540.95,378.61 541.20,400.76 541.45,378.51 541.70,400.87 541.95,378.41 542.20,400.98 542.45,378.31 542.70,401.09 542.95,378.21 543.20,401.20 543.45,378.11 543.70,401.31 543.95,378.01 544.20,401.42 544.45,377.91 544.60,377.88 545.00,377.80 555.00,375.50 570.00,372.60 573.00,372.10 576.00,371.60 577.00,371.43 585.00,370.10 600.00,366.90 615.00,364.00 635.50,361.00 635.60,360.98 636.20,405.80 642.40,359.83 645.00,359.37 646.40,359.12 649.60,358.55 660.00,356.70 694.00,353.55" fill="none" stroke="#000000" stroke-width="2.1" stroke-linejoin="round" stroke-linecap="butt" />
</g>
<rect x="93.3" y="396.9" width="103.6" height="46.1" rx="2.8" fill="#fff" fill-opacity="0.8" stroke="#cccccc" stroke-width="1.1"/>
<line x1="97.9" y1="407.8" x2="128.3" y2="407.8" stroke="#ff0000" stroke-width="2.1"/>
<line x1="97.9" y1="429.3" x2="128.3" y2="429.3" stroke="#000" stroke-width="2.1"/>
<text x="138.93" y="413.30" font-size="15.10" textLength="52.25" lengthAdjust="spacingAndGlyphs" >V3 side</text>
<text x="138.93" y="433.90" font-size="15.10" textLength="52.25" lengthAdjust="spacingAndGlyphs" >V4 side</text>
<line x1="276.3" y1="471.1" x2="276.3" y2="601.8" stroke="#2ca02c" stroke-width="1.45" />
<line x1="313.0" y1="471.1" x2="313.0" y2="601.8" stroke="#2ca02c" stroke-width="1.45" stroke-dasharray="4.3 1.9"/>
<line x1="390.5" y1="471.1" x2="390.5" y2="601.8" stroke="#2ca02c" stroke-width="1.45" stroke-dasharray="1.2 1.9"/>
<line x1="491.9" y1="471.1" x2="491.9" y2="601.8" stroke="#2ca02c" stroke-width="1.45" stroke-dasharray="7.5 1.9 1.2 1.9"/>
<g clip-path="url(#c5)">
<circle cx="89.52" cy="598.60" r="2.3" fill="#ff0000"/>
<circle cx="94.89" cy="595.40" r="2.3" fill="#ff0000"/>
<circle cx="100.26" cy="594.70" r="2.3" fill="#ff0000"/>
<circle cx="105.63" cy="596.90" r="2.3" fill="#ff0000"/>
<circle cx="111.01" cy="594.50" r="2.3" fill="#ff0000"/>
<circle cx="116.38" cy="596.00" r="2.3" fill="#ff0000"/>
<circle cx="121.75" cy="594.70" r="2.3" fill="#ff0000"/>
<circle cx="127.13" cy="592.80" r="2.3" fill="#ff0000"/>
<circle cx="132.50" cy="596.00" r="2.3" fill="#ff0000"/>
<circle cx="137.87" cy="595.00" r="2.3" fill="#ff0000"/>
<circle cx="143.25" cy="592.60" r="2.3" fill="#ff0000"/>
<circle cx="148.62" cy="591.50" r="2.3" fill="#ff0000"/>
<circle cx="153.99" cy="593.00" r="2.3" fill="#ff0000"/>
<circle cx="159.37" cy="594.30" r="2.3" fill="#ff0000"/>
<circle cx="164.74" cy="588.50" r="2.3" fill="#ff0000"/>
<circle cx="170.11" cy="597.50" r="2.3" fill="#ff0000"/>
<circle cx="175.48" cy="599.00" r="2.3" fill="#ff0000"/>
<circle cx="180.86" cy="597.50" r="2.3" fill="#ff0000"/>
<circle cx="186.23" cy="591.10" r="2.3" fill="#ff0000"/>
<circle cx="191.60" cy="592.60" r="2.3" fill="#ff0000"/>
<circle cx="196.98" cy="593.20" r="2.3" fill="#ff0000"/>
<circle cx="202.35" cy="593.80" r="2.3" fill="#ff0000"/>
<circle cx="207.72" cy="588.90" r="2.3" fill="#ff0000"/>
<circle cx="213.09" cy="586.10" r="2.3" fill="#ff0000"/>
<circle cx="218.47" cy="587.90" r="2.3" fill="#ff0000"/>
<circle cx="223.84" cy="590.40" r="2.3" fill="#ff0000"/>
<circle cx="229.21" cy="590.60" r="2.3" fill="#ff0000"/>
<circle cx="239.96" cy="589.80" r="2.3" fill="#ff0000"/>
<circle cx="245.33" cy="589.00" r="2.3" fill="#ff0000"/>
<circle cx="250.71" cy="593.20" r="2.3" fill="#ff0000"/>
<circle cx="256.08" cy="587.20" r="2.3" fill="#ff0000"/>
<circle cx="261.45" cy="587.60" r="2.3" fill="#ff0000"/>
<circle cx="266.83" cy="586.70" r="2.3" fill="#ff0000"/>
<circle cx="272.20" cy="581.60" r="2.3" fill="#ff0000"/>
<circle cx="277.57" cy="580.70" r="2.3" fill="#ff0000"/>
<circle cx="282.94" cy="583.30" r="2.3" fill="#ff0000"/>
<circle cx="288.32" cy="580.70" r="2.3" fill="#ff0000"/>
<circle cx="293.69" cy="578.10" r="2.3" fill="#ff0000"/>
<circle cx="299.06" cy="579.00" r="2.3" fill="#ff0000"/>
<line x1="304.44" y1="568.01" x2="304.44" y2="572.79" stroke="#ff0000" stroke-width="1.1"/>
<circle cx="304.44" cy="570.40" r="2.3" fill="#ff0000"/>
<circle cx="309.81" cy="576.40" r="2.3" fill="#ff0000"/>
<line x1="315.18" y1="566.24" x2="315.18" y2="571.16" stroke="#ff0000" stroke-width="1.1"/>
<circle cx="315.18" cy="568.70" r="2.3" fill="#ff0000"/>
<line x1="320.56" y1="565.21" x2="320.56" y2="570.19" stroke="#ff0000" stroke-width="1.1"/>
<circle cx="320.56" cy="567.70" r="2.3" fill="#ff0000"/>
<line x1="325.93" y1="569.88" x2="325.93" y2="574.52" stroke="#ff0000" stroke-width="1.1"/>
<circle cx="325.93" cy="572.20" r="2.3" fill="#ff0000"/>
<line x1="331.30" y1="564.27" x2="331.30" y2="569.33" stroke="#ff0000" stroke-width="1.1"/>
<circle cx="331.30" cy="566.80" r="2.3" fill="#ff0000"/>
<line x1="336.67" y1="566.55" x2="336.67" y2="571.45" stroke="#ff0000" stroke-width="1.1"/>
<circle cx="336.67" cy="569.00" r="2.3" fill="#ff0000"/>
<line x1="342.05" y1="554.55" x2="342.05" y2="560.25" stroke="#ff0000" stroke-width="1.1"/>
<circle cx="342.05" cy="557.40" r="2.3" fill="#ff0000"/>
<line x1="347.42" y1="548.67" x2="347.42" y2="554.73" stroke="#ff0000" stroke-width="1.1"/>
<circle cx="347.42" cy="551.70" r="2.3" fill="#ff0000"/>
<line x1="352.79" y1="553.31" x2="352.79" y2="559.09" stroke="#ff0000" stroke-width="1.1"/>
<circle cx="352.79" cy="556.20" r="2.3" fill="#ff0000"/>
<line x1="358.17" y1="562.51" x2="358.17" y2="567.69" stroke="#ff0000" stroke-width="1.1"/>
<circle cx="358.17" cy="565.10" r="2.3" fill="#ff0000"/>
<line x1="363.54" y1="545.79" x2="363.54" y2="552.01" stroke="#ff0000" stroke-width="1.1"/>
<circle cx="363.54" cy="548.90" r="2.3" fill="#ff0000"/>
<line x1="368.91" y1="546.82" x2="368.91" y2="552.98" stroke="#ff0000" stroke-width="1.1"/>
<circle cx="368.91" cy="549.90" r="2.3" fill="#ff0000"/>
<line x1="374.28" y1="560.03" x2="374.28" y2="565.37" stroke="#ff0000" stroke-width="1.1"/>
<circle cx="374.28" cy="562.70" r="2.3" fill="#ff0000"/>
<line x1="379.66" y1="542.90" x2="379.66" y2="549.30" stroke="#ff0000" stroke-width="1.1"/>
<circle cx="379.66" cy="546.10" r="2.3" fill="#ff0000"/>
<line x1="385.03" y1="547.74" x2="385.03" y2="553.86" stroke="#ff0000" stroke-width="1.1"/>
<circle cx="385.03" cy="550.80" r="2.3" fill="#ff0000"/>
<line x1="390.40" y1="551.97" x2="390.40" y2="557.83" stroke="#ff0000" stroke-width="1.1"/>
<circle cx="390.40" cy="554.90" r="2.3" fill="#ff0000"/>
<line x1="395.78" y1="558.68" x2="395.78" y2="564.12" stroke="#ff0000" stroke-width="1.1"/>
<circle cx="395.78" cy="561.40" r="2.3" fill="#ff0000"/>
<line x1="401.15" y1="551.04" x2="401.15" y2="556.96" stroke="#ff0000" stroke-width="1.1"/>
<circle cx="401.15" cy="554.00" r="2.3" fill="#ff0000"/>
<line x1="406.52" y1="561.16" x2="406.52" y2="566.44" stroke="#ff0000" stroke-width="1.1"/>
<circle cx="406.52" cy="563.80" r="2.3" fill="#ff0000"/>
<line x1="411.90" y1="565.83" x2="411.90" y2="570.77" stroke="#ff0000" stroke-width="1.1"/>
<circle cx="411.90" cy="568.30" r="2.3" fill="#ff0000"/>
<line x1="417.27" y1="559.10" x2="417.27" y2="564.50" stroke="#ff0000" stroke-width="1.1"/>
<circle cx="417.27" cy="561.80" r="2.3" fill="#ff0000"/>
<line x1="422.64" y1="559.10" x2="422.64" y2="564.50" stroke="#ff0000" stroke-width="1.1"/>
<circle cx="422.64" cy="561.80" r="2.3" fill="#ff0000"/>
<circle cx="428.01" cy="582.00" r="2.3" fill="#ff0000"/>
<circle cx="433.39" cy="577.10" r="2.3" fill="#ff0000"/>
<circle cx="438.76" cy="579.20" r="2.3" fill="#ff0000"/>
<circle cx="444.13" cy="582.40" r="2.3" fill="#ff0000"/>
<circle cx="449.51" cy="584.90" r="2.3" fill="#ff0000"/>
<circle cx="454.88" cy="584.90" r="2.3" fill="#ff0000"/>
<circle cx="460.25" cy="587.00" r="2.3" fill="#ff0000"/>
<circle cx="465.63" cy="587.00" r="2.3" fill="#ff0000"/>
<circle cx="471.00" cy="591.80" r="2.3" fill="#ff0000"/>
<circle cx="476.37" cy="592.50" r="2.3" fill="#ff0000"/>
<circle cx="481.75" cy="590.80" r="2.3" fill="#ff0000"/>
<circle cx="487.12" cy="588.30" r="2.3" fill="#ff0000"/>
<circle cx="492.49" cy="579.90" r="2.3" fill="#ff0000"/>
<circle cx="497.86" cy="578.20" r="2.3" fill="#ff0000"/>
<circle cx="503.24" cy="577.80" r="2.3" fill="#ff0000"/>
<circle cx="508.61" cy="577.10" r="2.3" fill="#ff0000"/>
<circle cx="513.98" cy="596.90" r="2.3" fill="#ff0000"/>
<circle cx="519.36" cy="586.00" r="2.3" fill="#ff0000"/>
<circle cx="524.73" cy="585.10" r="2.3" fill="#ff0000"/>
<circle cx="540.85" cy="587.90" r="2.3" fill="#ff0000"/>
<circle cx="546.22" cy="590.70" r="2.3" fill="#ff0000"/>
<circle cx="556.97" cy="592.40" r="2.3" fill="#ff0000"/>
<circle cx="567.71" cy="589.00" r="2.3" fill="#ff0000"/>
<circle cx="573.09" cy="591.70" r="2.3" fill="#ff0000"/>
<circle cx="578.46" cy="589.70" r="2.3" fill="#ff0000"/>
<circle cx="583.83" cy="592.90" r="2.3" fill="#ff0000"/>
<circle cx="589.21" cy="590.40" r="2.3" fill="#ff0000"/>
<circle cx="599.95" cy="593.80" r="2.3" fill="#ff0000"/>
<circle cx="605.32" cy="594.50" r="2.3" fill="#ff0000"/>
<circle cx="610.70" cy="592.10" r="2.3" fill="#ff0000"/>
<circle cx="616.07" cy="592.10" r="2.3" fill="#ff0000"/>
<circle cx="621.44" cy="599.90" r="2.3" fill="#ff0000"/>
<circle cx="626.82" cy="597.40" r="2.3" fill="#ff0000"/>
<circle cx="632.19" cy="593.00" r="2.3" fill="#ff0000"/>
<circle cx="637.56" cy="591.60" r="2.3" fill="#ff0000"/>
<circle cx="642.93" cy="590.40" r="2.3" fill="#ff0000"/>
<circle cx="648.31" cy="592.10" r="2.3" fill="#ff0000"/>
<circle cx="653.68" cy="594.30" r="2.3" fill="#ff0000"/>
<circle cx="659.05" cy="598.40" r="2.3" fill="#ff0000"/>
<circle cx="664.43" cy="596.20" r="2.3" fill="#ff0000"/>
<circle cx="669.80" cy="595.50" r="2.3" fill="#ff0000"/>
<circle cx="675.17" cy="597.00" r="2.3" fill="#ff0000"/>
<circle cx="680.55" cy="599.60" r="2.3" fill="#ff0000"/>
<circle cx="685.92" cy="597.40" r="2.3" fill="#ff0000"/>
<circle cx="691.29" cy="594.80" r="2.3" fill="#ff0000"/>
<circle cx="89.52" cy="594.90" r="2.3" fill="#000000"/>
<circle cx="94.89" cy="594.90" r="2.3" fill="#000000"/>
<circle cx="100.26" cy="593.90" r="2.3" fill="#000000"/>
<circle cx="105.63" cy="593.60" r="2.3" fill="#000000"/>
<circle cx="111.01" cy="594.30" r="2.3" fill="#000000"/>
<circle cx="116.38" cy="592.10" r="2.3" fill="#000000"/>
<circle cx="121.75" cy="598.10" r="2.3" fill="#000000"/>
<circle cx="127.13" cy="594.30" r="2.3" fill="#000000"/>
<circle cx="132.50" cy="592.10" r="2.3" fill="#000000"/>
<circle cx="137.87" cy="594.90" r="2.3" fill="#000000"/>
<circle cx="143.25" cy="592.80" r="2.3" fill="#000000"/>
<circle cx="148.62" cy="594.30" r="2.3" fill="#000000"/>
<circle cx="153.99" cy="592.60" r="2.3" fill="#000000"/>
<circle cx="159.37" cy="591.70" r="2.3" fill="#000000"/>
<circle cx="164.74" cy="597.90" r="2.3" fill="#000000"/>
<circle cx="170.11" cy="592.60" r="2.3" fill="#000000"/>
<circle cx="175.48" cy="582.50" r="2.3" fill="#000000"/>
<circle cx="180.86" cy="588.50" r="2.3" fill="#000000"/>
<circle cx="186.23" cy="592.60" r="2.3" fill="#000000"/>
<circle cx="191.60" cy="594.30" r="2.3" fill="#000000"/>
<circle cx="196.98" cy="592.60" r="2.3" fill="#000000"/>
<circle cx="202.35" cy="593.60" r="2.3" fill="#000000"/>
<circle cx="207.72" cy="590.00" r="2.3" fill="#000000"/>
<circle cx="213.09" cy="593.20" r="2.3" fill="#000000"/>
<circle cx="218.47" cy="589.60" r="2.3" fill="#000000"/>
<circle cx="223.84" cy="587.40" r="2.3" fill="#000000"/>
<circle cx="229.21" cy="587.60" r="2.3" fill="#000000"/>
<circle cx="239.96" cy="587.60" r="2.3" fill="#000000"/>
<circle cx="245.33" cy="586.40" r="2.3" fill="#000000"/>
<circle cx="250.71" cy="587.60" r="2.3" fill="#000000"/>
<circle cx="256.08" cy="582.80" r="2.3" fill="#000000"/>
<circle cx="261.45" cy="584.50" r="2.3" fill="#000000"/>
<circle cx="266.83" cy="580.70" r="2.3" fill="#000000"/>
<circle cx="272.20" cy="585.00" r="2.3" fill="#000000"/>
<circle cx="277.57" cy="587.90" r="2.3" fill="#000000"/>
<circle cx="282.94" cy="584.70" r="2.3" fill="#000000"/>
<circle cx="288.32" cy="575.60" r="2.3" fill="#000000"/>
<circle cx="293.69" cy="575.60" r="2.3" fill="#000000"/>
<circle cx="299.06" cy="581.20" r="2.3" fill="#000000"/>
<circle cx="304.44" cy="590.70" r="2.3" fill="#000000"/>
<line x1="309.81" y1="567.18" x2="309.81" y2="572.02" stroke="#000000" stroke-width="1.1"/>
<circle cx="309.81" cy="569.60" r="2.3" fill="#000000"/>
<line x1="315.18" y1="564.79" x2="315.18" y2="569.81" stroke="#000000" stroke-width="1.1"/>
<circle cx="315.18" cy="567.30" r="2.3" fill="#000000"/>
<line x1="320.56" y1="561.37" x2="320.56" y2="566.63" stroke="#000000" stroke-width="1.1"/>
<circle cx="320.56" cy="564.00" r="2.3" fill="#000000"/>
<line x1="325.93" y1="556.20" x2="325.93" y2="561.80" stroke="#000000" stroke-width="1.1"/>
<circle cx="325.93" cy="559.00" r="2.3" fill="#000000"/>
<line x1="331.30" y1="553.62" x2="331.30" y2="559.38" stroke="#000000" stroke-width="1.1"/>
<circle cx="331.30" cy="556.50" r="2.3" fill="#000000"/>
<line x1="336.67" y1="551.56" x2="336.67" y2="557.44" stroke="#000000" stroke-width="1.1"/>
<circle cx="336.67" cy="554.50" r="2.3" fill="#000000"/>
<line x1="342.05" y1="540.85" x2="342.05" y2="547.35" stroke="#000000" stroke-width="1.1"/>
<circle cx="342.05" cy="544.10" r="2.3" fill="#000000"/>
<line x1="347.42" y1="531.19" x2="347.42" y2="538.21" stroke="#000000" stroke-width="1.1"/>
<circle cx="347.42" cy="534.70" r="2.3" fill="#000000"/>
<line x1="352.79" y1="536.02" x2="352.79" y2="542.78" stroke="#000000" stroke-width="1.1"/>
<circle cx="352.79" cy="539.40" r="2.3" fill="#000000"/>
<line x1="358.17" y1="527.39" x2="358.17" y2="534.61" stroke="#000000" stroke-width="1.1"/>
<circle cx="358.17" cy="531.00" r="2.3" fill="#000000"/>
<line x1="363.54" y1="518.99" x2="363.54" y2="526.61" stroke="#000000" stroke-width="1.1"/>
<circle cx="363.54" cy="522.80" r="2.3" fill="#000000"/>
<line x1="368.91" y1="525.14" x2="368.91" y2="532.46" stroke="#000000" stroke-width="1.1"/>
<circle cx="368.91" cy="528.80" r="2.3" fill="#000000"/>
<line x1="374.28" y1="500.27" x2="374.28" y2="508.73" stroke="#000000" stroke-width="1.1"/>
<circle cx="374.28" cy="504.50" r="2.3" fill="#000000"/>
<line x1="379.66" y1="491.69" x2="379.66" y2="500.51" stroke="#000000" stroke-width="1.1"/>
<circle cx="379.66" cy="496.10" r="2.3" fill="#000000"/>
<line x1="385.03" y1="488.42" x2="385.03" y2="497.38" stroke="#000000" stroke-width="1.1"/>
<circle cx="385.03" cy="492.90" r="2.3" fill="#000000"/>
<line x1="390.40" y1="491.08" x2="390.40" y2="499.92" stroke="#000000" stroke-width="1.1"/>
<circle cx="390.40" cy="495.50" r="2.3" fill="#000000"/>
<line x1="395.78" y1="484.65" x2="395.78" y2="493.75" stroke="#000000" stroke-width="1.1"/>
<circle cx="395.78" cy="489.20" r="2.3" fill="#000000"/>
<line x1="401.15" y1="484.14" x2="401.15" y2="493.26" stroke="#000000" stroke-width="1.1"/>
<circle cx="401.15" cy="488.70" r="2.3" fill="#000000"/>
<line x1="406.52" y1="477.10" x2="406.52" y2="486.50" stroke="#000000" stroke-width="1.1"/>
<circle cx="406.52" cy="481.80" r="2.3" fill="#000000"/>
<line x1="411.90" y1="504.66" x2="411.90" y2="512.94" stroke="#000000" stroke-width="1.1"/>
<circle cx="411.90" cy="508.80" r="2.3" fill="#000000"/>
<line x1="417.27" y1="495.88" x2="417.27" y2="504.52" stroke="#000000" stroke-width="1.1"/>
<circle cx="417.27" cy="500.20" r="2.3" fill="#000000"/>
<line x1="422.64" y1="509.47" x2="422.64" y2="517.53" stroke="#000000" stroke-width="1.1"/>
<circle cx="422.64" cy="513.50" r="2.3" fill="#000000"/>
<line x1="428.01" y1="535.50" x2="428.01" y2="542.30" stroke="#000000" stroke-width="1.1"/>
<circle cx="428.01" cy="538.90" r="2.3" fill="#000000"/>
<line x1="433.39" y1="526.68" x2="433.39" y2="533.92" stroke="#000000" stroke-width="1.1"/>
<circle cx="433.39" cy="530.30" r="2.3" fill="#000000"/>
<line x1="438.76" y1="534.17" x2="438.76" y2="541.03" stroke="#000000" stroke-width="1.1"/>
<circle cx="438.76" cy="537.60" r="2.3" fill="#000000"/>
<line x1="444.13" y1="554.96" x2="444.13" y2="560.64" stroke="#000000" stroke-width="1.1"/>
<circle cx="444.13" cy="557.80" r="2.3" fill="#000000"/>
<line x1="449.51" y1="553.21" x2="449.51" y2="558.99" stroke="#000000" stroke-width="1.1"/>
<circle cx="449.51" cy="556.10" r="2.3" fill="#000000"/>
<line x1="454.88" y1="557.13" x2="454.88" y2="562.67" stroke="#000000" stroke-width="1.1"/>
<circle cx="454.88" cy="559.90" r="2.3" fill="#000000"/>
<line x1="460.25" y1="564.06" x2="460.25" y2="569.14" stroke="#000000" stroke-width="1.1"/>
<circle cx="460.25" cy="566.60" r="2.3" fill="#000000"/>
<line x1="465.63" y1="561.27" x2="465.63" y2="566.53" stroke="#000000" stroke-width="1.1"/>
<circle cx="465.63" cy="563.90" r="2.3" fill="#000000"/>
<circle cx="471.00" cy="572.90" r="2.3" fill="#000000"/>
<circle cx="476.37" cy="574.40" r="2.3" fill="#000000"/>
<circle cx="481.75" cy="574.00" r="2.3" fill="#000000"/>
<circle cx="487.12" cy="578.60" r="2.3" fill="#000000"/>
<circle cx="492.49" cy="592.50" r="2.3" fill="#000000"/>
<circle cx="497.86" cy="592.90" r="2.3" fill="#000000"/>
<circle cx="503.24" cy="595.40" r="2.3" fill="#000000"/>
<circle cx="508.61" cy="597.20" r="2.3" fill="#000000"/>
<circle cx="513.98" cy="595.30" r="2.3" fill="#000000"/>
<circle cx="519.36" cy="598.30" r="2.3" fill="#000000"/>
<circle cx="524.73" cy="597.40" r="2.3" fill="#000000"/>
<circle cx="540.85" cy="599.60" r="2.3" fill="#000000"/>
<circle cx="546.22" cy="597.60" r="2.3" fill="#000000"/>
<circle cx="556.97" cy="596.90" r="2.3" fill="#000000"/>
<circle cx="567.71" cy="597.90" r="2.3" fill="#000000"/>
<circle cx="573.09" cy="594.30" r="2.3" fill="#000000"/>
<circle cx="578.46" cy="596.90" r="2.3" fill="#000000"/>
<circle cx="583.83" cy="599.60" r="2.3" fill="#000000"/>
<circle cx="589.21" cy="594.70" r="2.3" fill="#000000"/>
<circle cx="599.95" cy="595.00" r="2.3" fill="#000000"/>
<circle cx="605.32" cy="596.20" r="2.3" fill="#000000"/>
<circle cx="610.70" cy="598.40" r="2.3" fill="#000000"/>
<circle cx="616.07" cy="598.00" r="2.3" fill="#000000"/>
<circle cx="621.44" cy="597.00" r="2.3" fill="#000000"/>
<circle cx="626.82" cy="596.50" r="2.3" fill="#000000"/>
<circle cx="632.19" cy="595.50" r="2.3" fill="#000000"/>
<circle cx="637.56" cy="598.00" r="2.3" fill="#000000"/>
<circle cx="642.93" cy="597.70" r="2.3" fill="#000000"/>
<circle cx="648.31" cy="598.40" r="2.3" fill="#000000"/>
<circle cx="653.68" cy="597.40" r="2.3" fill="#000000"/>
<circle cx="659.05" cy="596.20" r="2.3" fill="#000000"/>
<circle cx="664.43" cy="600.60" r="2.3" fill="#000000"/>
<circle cx="669.80" cy="597.20" r="2.3" fill="#000000"/>
<circle cx="675.17" cy="597.00" r="2.3" fill="#000000"/>
<circle cx="680.55" cy="596.70" r="2.3" fill="#000000"/>
<circle cx="685.92" cy="593.30" r="2.3" fill="#000000"/>
<circle cx="691.29" cy="598.40" r="2.3" fill="#000000"/>
</g>
<line x1="276.3" y1="146.7" x2="276.3" y2="212.0" stroke="#2ca02c" stroke-width="1.45" />
<line x1="313.0" y1="146.7" x2="313.0" y2="212.0" stroke="#2ca02c" stroke-width="1.45" stroke-dasharray="4.3 1.9"/>
<line x1="390.5" y1="146.7" x2="390.5" y2="212.0" stroke="#2ca02c" stroke-width="1.45" stroke-dasharray="1.2 1.9"/>
<line x1="491.9" y1="146.7" x2="491.9" y2="212.0" stroke="#2ca02c" stroke-width="1.45" stroke-dasharray="7.5 1.9 1.2 1.9"/>
<line x1="276.3" y1="233.2" x2="276.3" y2="298.4" stroke="#2ca02c" stroke-width="1.45" />
<line x1="313.0" y1="233.2" x2="313.0" y2="298.4" stroke="#2ca02c" stroke-width="1.45" stroke-dasharray="4.3 1.9"/>
<line x1="390.5" y1="233.2" x2="390.5" y2="298.4" stroke="#2ca02c" stroke-width="1.45" stroke-dasharray="1.2 1.9"/>
<line x1="491.9" y1="233.2" x2="491.9" y2="298.4" stroke="#2ca02c" stroke-width="1.45" stroke-dasharray="7.5 1.9 1.2 1.9"/>
<line x1="276.3" y1="319.6" x2="276.3" y2="450.0" stroke="#2ca02c" stroke-width="1.45" />
<line x1="313.0" y1="319.6" x2="313.0" y2="450.0" stroke="#2ca02c" stroke-width="1.45" stroke-dasharray="4.3 1.9"/>
<line x1="390.5" y1="319.6" x2="390.5" y2="450.0" stroke="#2ca02c" stroke-width="1.45" stroke-dasharray="1.2 1.9"/>
<line x1="491.9" y1="319.6" x2="491.9" y2="450.0" stroke="#2ca02c" stroke-width="1.45" stroke-dasharray="7.5 1.9 1.2 1.9"/>
<rect x="93.4" y="478.4" width="118.3" height="66.7" rx="2.8" fill="#fff" fill-opacity="0.8" stroke="#cccccc" stroke-width="1.1"/>
<text x="130.49" y="494.80" font-size="15.10" textLength="44.18" lengthAdjust="spacingAndGlyphs" >V3–V4</text>
<line x1="112.9" y1="503.7" x2="112.9" y2="518" stroke="#ff0000" stroke-width="1.3"/><circle cx="112.9" cy="510.9" r="3.9" fill="#ff0000"/>
<line x1="112.9" y1="524.5" x2="112.9" y2="538.9" stroke="#000" stroke-width="1.3"/><circle cx="112.9" cy="531.7" r="3.9" fill="#000"/>
<text x="138.69" y="515.60" font-size="15.10" textLength="61.80" lengthAdjust="spacingAndGlyphs" >&gt; 50 mV</text>
<text x="138.69" y="536.20" font-size="15.10" textLength="66.92" lengthAdjust="spacingAndGlyphs" >&lt; -50 mV</text>
<rect x="86.3" y="60.3" width="608.0" height="65.3" fill="none" stroke="#000" stroke-width="1.1"/>
<rect x="86.3" y="146.7" width="608.0" height="65.30000000000001" fill="none" stroke="#000" stroke-width="1.1"/>
<rect x="86.3" y="233.2" width="608.0" height="65.19999999999999" fill="none" stroke="#000" stroke-width="1.1"/>
<rect x="86.3" y="319.6" width="608.0" height="130.39999999999998" fill="none" stroke="#000" stroke-width="1.1"/>
<rect x="86.3" y="471.1" width="608.0" height="130.69999999999993" fill="none" stroke="#000" stroke-width="1.1"/>
<text transform="translate(12.10,0) rotate(-90)" x="-114.32" y="0" font-size="15.10" textLength="9.81" lengthAdjust="spacingAndGlyphs" font-style="italic">φ</text>
<text transform="translate(14.80,0) rotate(-90)" x="-105.18" y="0" font-size="10.90" textLength="13.90" lengthAdjust="spacingAndGlyphs" font-style="italic">inc</text>
<text transform="translate(12.10,0) rotate(-90)" x="-85.29" y="0" font-size="15.10" textLength="13.66" lengthAdjust="spacingAndGlyphs">of</text>
<text transform="translate(30.00,0) rotate(-90)" x="-132.75" y="0" font-size="15.10" textLength="4.02" lengthAdjust="spacingAndGlyphs">(</text>
<text transform="translate(30.00,0) rotate(-90)" x="-127.18" y="0" font-size="15.10" textLength="7.10" lengthAdjust="spacingAndGlyphs" font-style="italic">v</text>
<path d="M19.20,126.00 L19.20,120.60" stroke="#000" stroke-width="0.9" fill="none"/>
<path d="M17.70,122.00 L19.20,120.00 L20.70,122.00" stroke="#000" stroke-width="0.8" fill="none"/>
<text transform="translate(32.60,0) rotate(-90)" x="-118.43" y="0" font-size="10.90" textLength="15.77" lengthAdjust="spacingAndGlyphs" font-style="italic">pro</text>
<text transform="translate(30.00,0) rotate(-90)" x="-98.22" y="0" font-size="15.10" textLength="9.74" lengthAdjust="spacingAndGlyphs">−</text>
<text transform="translate(30.00,0) rotate(-90)" x="-84.50" y="0" font-size="15.10" textLength="7.30" lengthAdjust="spacingAndGlyphs" font-style="italic">v</text>
<path d="M19.20,83.20 L19.20,77.60" stroke="#000" stroke-width="0.9" fill="none"/>
<path d="M17.70,79.00 L19.20,77.00 L20.70,79.00" stroke="#000" stroke-width="0.8" fill="none"/>
<text transform="translate(32.80,0) rotate(-90)" x="-76.07" y="0" font-size="10.90" textLength="17.63" lengthAdjust="spacingAndGlyphs" font-style="italic">PSP</text>
<text transform="translate(30.00,0) rotate(-90)" x="-56.57" y="0" font-size="15.10" textLength="3.89" lengthAdjust="spacingAndGlyphs">)</text>
<text transform="translate(11.70,0) rotate(-90)" x="-201.42" y="0" font-size="15.10" textLength="8.94" lengthAdjust="spacingAndGlyphs" font-style="italic">ϕ</text>
<text transform="translate(14.00,0) rotate(-90)" x="-192.68" y="0" font-size="10.90" textLength="14.44" lengthAdjust="spacingAndGlyphs" font-style="italic">roll</text>
<text transform="translate(11.70,0) rotate(-90)" x="-171.69" y="0" font-size="15.10" textLength="13.66" lengthAdjust="spacingAndGlyphs">of</text>
<text transform="translate(28.00,0) rotate(-90)" x="-190.37" y="0" font-size="15.10" textLength="26.05" lengthAdjust="spacingAndGlyphs">PSP</text>
<line x1="2.5" y1="303.3" x2="16.8" y2="303.3" stroke="#000" stroke-width="1.15"/>
<text transform="translate(12.70,0) rotate(-90)" x="-300.70" y="0" font-size="15.10" textLength="7.30" lengthAdjust="spacingAndGlyphs" font-style="italic">v</text>
<path d="M2.50,298.60 L2.50,293.50" stroke="#000" stroke-width="0.9" fill="none"/>
<path d="M1.00,294.90 L2.50,292.90 L4.00,294.90" stroke="#000" stroke-width="0.8" fill="none"/>
<text transform="translate(15.40,0) rotate(-90)" x="-292.12" y="0" font-size="10.90" textLength="16.48" lengthAdjust="spacingAndGlyphs" font-style="italic">pro</text>
<text transform="translate(12.70,0) rotate(-90)" x="-271.50" y="0" font-size="15.10" textLength="9.50" lengthAdjust="spacingAndGlyphs">−</text>
<text transform="translate(12.70,0) rotate(-90)" x="-257.51" y="0" font-size="15.10" textLength="8.31" lengthAdjust="spacingAndGlyphs" font-style="italic">v</text>
<path d="M2.50,255.60 L2.50,249.20" stroke="#000" stroke-width="0.9" fill="none"/>
<path d="M1.00,250.60 L2.50,248.60 L4.00,250.60" stroke="#000" stroke-width="0.8" fill="none"/>
<text transform="translate(15.80,0) rotate(-90)" x="-249.18" y="0" font-size="10.90" textLength="17.93" lengthAdjust="spacingAndGlyphs" font-style="italic">PSP</text>
<line x1="2.5" y1="228.4" x2="16.5" y2="228.4" stroke="#000" stroke-width="1.15"/>
<text transform="translate(30.40,0) rotate(-90)" x="-285.39" y="0" font-size="15.10" textLength="44.17" lengthAdjust="spacingAndGlyphs">(km/s)</text>
<text transform="translate(12.00,0) rotate(-90)" x="-439.31" y="0" font-size="15.10" textLength="104.11" lengthAdjust="spacingAndGlyphs">Projected area</text>
<text transform="translate(27.90,0) rotate(-90)" x="-427.13" y="0" font-size="15.10" textLength="19.21" lengthAdjust="spacingAndGlyphs">for</text>
<text transform="translate(27.80,0) rotate(-90)" x="-403.62" y="0" font-size="15.10" textLength="4.40" lengthAdjust="spacingAndGlyphs">(</text>
<text transform="translate(28.30,0) rotate(-90)" x="-398.77" y="0" font-size="15.10" textLength="8.91" lengthAdjust="spacingAndGlyphs" font-style="italic">φ</text>
<text transform="translate(29.90,0) rotate(-90)" x="-388.68" y="0" font-size="10.90" textLength="13.90" lengthAdjust="spacingAndGlyphs" font-style="italic">inc</text>
<text transform="translate(27.90,0) rotate(-90)" x="-374.26" y="0" font-size="15.10" textLength="4.81" lengthAdjust="spacingAndGlyphs">,</text>
<text transform="translate(27.90,0) rotate(-90)" x="-367.86" y="0" font-size="15.10" textLength="9.61" lengthAdjust="spacingAndGlyphs" font-style="italic">ϕ</text>
<text transform="translate(30.10,0) rotate(-90)" x="-357.19" y="0" font-size="10.90" textLength="15.53" lengthAdjust="spacingAndGlyphs" font-style="italic">roll</text>
<text transform="translate(27.80,0) rotate(-90)" x="-340.58" y="0" font-size="15.10" textLength="4.40" lengthAdjust="spacingAndGlyphs">)</text>
<text transform="translate(45.40,0) rotate(-90)" x="-399.05" y="0" font-size="15.10" textLength="3.52" lengthAdjust="spacingAndGlyphs">(</text>
<text transform="translate(45.40,0) rotate(-90)" x="-394.13" y="0" font-size="15.10" textLength="12.96" lengthAdjust="spacingAndGlyphs">m</text>
<text transform="translate(39.80,0) rotate(-90)" x="-380.54" y="0" font-size="10.90" textLength="5.98" lengthAdjust="spacingAndGlyphs">2</text>
<text transform="translate(45.40,0) rotate(-90)" x="-372.37" y="0" font-size="15.10" textLength="3.89" lengthAdjust="spacingAndGlyphs">)</text>
<text transform="translate(11.90,0) rotate(-90)" x="-566.90" y="0" font-size="15.10" textLength="57.20" lengthAdjust="spacingAndGlyphs">Hit Rate</text>
<text transform="translate(29.20,0) rotate(-90)" x="-595.20" y="0" font-size="15.10" textLength="84.33" lengthAdjust="spacingAndGlyphs">(Counts/(10</text>
<text transform="translate(23.30,0) rotate(-90)" x="-511.33" y="0" font-size="10.90" textLength="5.79" lengthAdjust="spacingAndGlyphs">6</text>
<text transform="translate(29.20,0) rotate(-90)" x="-500.99" y="0" font-size="15.10" textLength="24.61" lengthAdjust="spacingAndGlyphs">m))</text>
</svg></body></html>
